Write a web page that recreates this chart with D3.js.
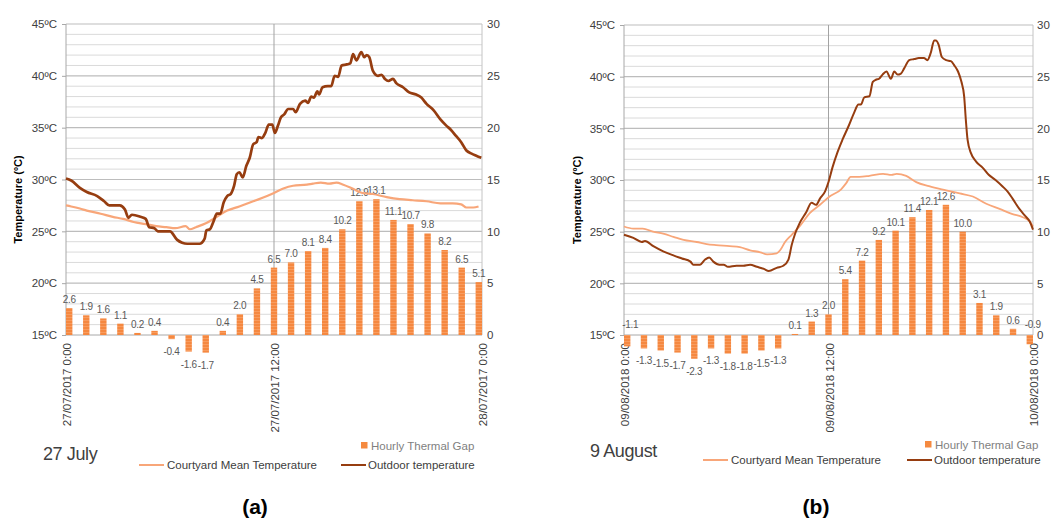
<!DOCTYPE html>
<html><head><meta charset="utf-8">
<script src="https://cdn.jsdelivr.net/npm/d3@7"></script>
<style>
html,body{margin:0;padding:0;background:#fff;}
svg{display:block;}
text{font-family:"Liberation Sans",Arial,sans-serif;}
</style></head>
<body>
<svg id="chart" width="1056" height="519"></svg>
<script>
// ---------------- DATA ----------------
const hourTicks = [0, 12, 24];
const xLabelsA = ["27/07/2017 0:00", "27/07/2017 12:00", "28/07/2017 0:00"];
const xLabelsB = ["09/08/2018 0:00", "09/08/2018 12:00", "10/08/2018 0:00"];
const tempTicks = [15, 20, 25, 30, 35, 40, 45];
const gapTicks = [0, 5, 10, 15, 20, 25, 30];
const barHours = d3.range(0, 25);

const gapA = [2.6,1.9,1.6,1.1,0.2,0.4,-0.4,-1.6,-1.7,0.4,2.0,4.5,6.5,7.0,8.1,8.4,10.2,12.9,13.1,11.1,10.7,9.8,8.2,6.5,5.1];
const gapB = [-1.1,-1.3,-1.5,-1.7,-2.3,-1.3,-1.8,-1.8,-1.5,-1.3,0.1,1.3,2.0,5.4,7.2,9.2,10.1,11.4,12.1,12.6,10.0,3.1,1.9,0.6,-0.9];

// [hour, °C]
const outdoorA = [[0,30.1],[0.3,29.9],[0.8,29.2],[1.2,28.8],[1.8,28.4],[2.2,27.9],[2.5,27.5],[3.1,27.5],[3.4,27.1],[3.6,26.3],[3.8,26.6],[4.3,26.4],[4.6,26.2],[4.8,25.4],[5.1,25.3],[5.3,25.0],[6.0,25.0],[6.4,24.2],[6.7,23.9],[7.0,23.8],[7.7,23.8],[8.0,24.3],[8.1,25.1],[8.3,25.2],[8.5,25.9],[8.7,26.7],[8.9,26.7],[9.1,27.8],[9.3,28.4],[9.5,28.6],[9.7,29.4],[9.85,30.5],[10.0,30.7],[10.2,30.2],[10.4,31.3],[10.6,32.1],[10.8,33.4],[11.0,33.6],[11.1,34.1],[11.3,34.0],[11.5,34.5],[11.7,35.3],[11.9,35.3],[12.05,34.5],[12.23,35.2],[12.4,36.0],[12.6,36.3],[12.8,36.8],[13.1,36.8],[13.25,36.5],[13.5,37.3],[13.8,37.6],[13.96,37.4],[14.15,38.0],[14.3,37.9],[14.5,38.5],[14.6,38.2],[14.8,38.9],[15.1,39.0],[15.3,39.0],[15.5,40.0],[15.7,39.9],[15.9,41.0],[16.2,41.1],[16.4,41.2],[16.56,42.1],[16.75,41.5],[17.04,42.3],[17.2,41.8],[17.35,42.0],[17.5,41.8],[17.7,40.5],[18.0,40.0],[18.2,40.1],[18.4,39.7],[18.6,39.5],[18.87,39.7],[19.05,39.3],[19.44,38.9],[19.8,38.4],[20.2,38.2],[20.5,37.9],[20.8,37.3],[21.2,36.7],[21.6,35.8],[21.94,35.2],[22.2,34.8],[22.5,34.2],[22.8,33.6],[23.1,32.8],[23.4,32.5],[23.67,32.3],[23.96,32.1]];
const courtyardA = [[0,27.5],[0.3,27.4],[0.8,27.2],[1.2,27.0],[2.0,26.7],[2.7,26.4],[3.3,26.2],[3.9,25.9],[4.6,25.7],[5.2,25.5],[5.8,25.4],[6.3,25.3],[6.9,25.5],[7.15,25.2],[7.5,25.4],[8.1,25.8],[8.7,26.4],[9.3,27.0],[10.0,27.4],[10.8,27.9],[11.6,28.4],[12.0,28.7],[12.5,29.1],[13.1,29.4],[13.9,29.5],[14.25,29.6],[14.7,29.7],[15.2,29.6],[15.6,29.7],[16.0,29.5],[16.56,29.1],[17.1,28.7],[17.7,28.6],[18.5,28.3],[19.25,28.1],[20.0,28.0],[20.8,27.9],[21.6,27.7],[22.3,27.7],[22.8,27.6],[23.1,27.3],[23.5,27.3],[23.8,27.4]];
const outdoorB = [[0,24.7],[0.55,24.4],[1.04,24.0],[1.23,24.1],[1.72,23.6],[2.3,23.1],[2.9,22.7],[3.4,22.4],[3.9,22.1],[4.07,21.8],[4.46,21.8],[4.76,22.3],[5.0,22.5],[5.24,22.1],[5.6,21.8],[5.85,21.8],[6.1,21.6],[6.6,21.7],[7.0,21.7],[7.4,21.8],[7.8,21.6],[8.2,21.4],[8.5,21.2],[8.96,21.5],[9.35,21.7],[9.65,22.3],[9.84,23.7],[10.04,24.8],[10.3,25.8],[10.7,26.9],[11.0,27.8],[11.27,27.6],[11.5,28.2],[11.8,28.9],[12.0,29.8],[12.23,31.2],[12.53,32.7],[12.82,33.9],[13.2,35.3],[13.5,36.5],[13.76,37.3],[13.9,37.3],[14.1,38.0],[14.4,38.1],[14.6,39.5],[14.78,39.7],[14.97,39.8],[15.17,40.2],[15.4,40.5],[15.66,39.8],[15.86,40.5],[16.05,40.2],[16.25,40.3],[16.44,40.8],[16.74,41.6],[17.03,41.7],[17.3,41.8],[17.6,41.8],[17.8,41.6],[18.0,42.3],[18.2,43.5],[18.3,43.5],[18.46,43.1],[18.65,41.9],[18.9,41.6],[19.18,41.5],[19.38,41.1],[19.6,40.5],[19.8,39.5],[19.96,38.1],[20.06,35.8],[20.16,33.9],[20.36,32.6],[20.65,31.8],[21.04,31.2],[21.4,30.5],[21.8,30.0],[22.2,29.4],[22.5,28.9],[22.8,28.2],[23.2,27.2],[23.5,26.6],[23.8,26.0],[24.0,25.2]];
const courtyardB = [[0,25.5],[0.55,25.3],[1.1,25.3],[1.7,25.0],[2.3,24.8],[2.9,24.5],[3.5,24.2],[4.27,24.0],[4.85,23.8],[5.4,23.7],[6.2,23.6],[6.8,23.5],[7.4,23.2],[8.0,23.0],[8.4,22.8],[8.96,22.9],[9.16,23.2],[9.45,24.0],[9.84,24.7],[10.3,25.5],[10.9,26.8],[11.5,27.6],[12.06,28.4],[12.74,29.1],[13.04,29.7],[13.3,30.3],[13.8,30.3],[14.4,30.4],[15.2,30.6],[15.7,30.5],[16.0,30.6],[16.56,30.4],[17.15,29.8],[17.9,29.4],[18.9,29.0],[19.7,28.7],[20.47,28.4],[21.26,27.7],[22.04,27.2],[22.8,26.7],[23.4,26.4],[23.8,26.0],[24.0,25.5]];

const titles = ["27 July", "9 August"];
const captions = ["(a)", "(b)"];
const legendLabels = ["Hourly Thermal Gap", "Courtyard Mean Temperature", "Outdoor temperature"];
const yTitle = "Temperature (ºC)";

// ---------------- STYLE ----------------
const C_OUT = "#963d10", C_CY = "#f8a679", C_BAR = "#f58a40";
const svg = d3.select("#chart");

const defs = svg.append("defs");
const pat = defs.append("pattern").attr("id","stripe").attr("patternUnits","userSpaceOnUse")
  .attr("width",4).attr("height",3);
pat.append("rect").attr("width",4).attr("height",3).attr("fill","#f58840");
pat.append("rect").attr("y",2).attr("width",4).attr("height",1).attr("fill","#f89c5f");

const charts = [
  {x0:66, x1:482, top:24, bot:335, gap:gapA, out:outdoorA, cy:courtyardA, xl:xLabelsA,
   title:titles[0], tx:43, ty:460, cap:captions[0], cx:255, ytx:18, rax:487, above:[],
   leg:{sqx:361, sqy:442, sty:450, ly:465, cyx:139, outx:341}, outW:2.7, cyW:2.2},
  {x0:624, x1:1033, top:25, bot:335, gap:gapB, out:outdoorB, cy:courtyardB, xl:xLabelsB,
   title:titles[1], tx:590, ty:457, cap:captions[1], cx:816, ytx:577, rax:1037, above:[0,24],
   leg:{sqx:925, sqy:441, sty:449, ly:460, cyx:703, outx:907}, outW:2.0, cyW:1.8}
];

charts.forEach(c => {
  const g = svg.append("g");
  const x = d3.scaleLinear().domain([0,24]).range([c.x0, c.x1]);
  const xb = d3.scaleLinear().domain([0,24]).range([c.x0+3.2, c.x1-3.2]);
  const y = d3.scaleLinear().domain([15,45]).range([c.bot, c.top]);
  const yg = d3.scaleLinear().domain([0,30]).range([c.bot, c.top]);

  // grid
  g.append("g").selectAll("line").data(d3.range(16,46)).join("line")
    .attr("x1", c.x0).attr("x2", c.x1).attr("y1", d=>y(d)).attr("y2", d=>y(d))
    .attr("stroke", d => d%5===0 ? "#bdbdbd" : "#dadada").attr("stroke-width", d=> d%5===0 ? 1.2 : 1);
  // vertical lines
  g.append("line").attr("x1",x(12)).attr("x2",x(12)).attr("y1",c.top).attr("y2",c.bot).attr("stroke","#a3a3a3");
  g.append("line").attr("x1",c.x0).attr("x2",c.x0).attr("y1",c.top).attr("y2",c.bot).attr("stroke","#a8a8a8");
  g.append("line").attr("x1",c.x1).attr("x2",c.x1).attr("y1",c.top).attr("y2",c.bot).attr("stroke","#c4c4c4");
  g.append("line").attr("x1",c.x0).attr("x2",c.x1).attr("y1",c.bot).attr("y2",c.bot).attr("stroke","#a8a8a8");

  // left axis
  const la = g.append("g").attr("transform",`translate(${c.x0},0)`)
    .call(d3.axisLeft(y).tickValues(tempTicks).tickFormat(d=>d+"ºC").tickSize(4).tickPadding(5).tickSizeOuter(0));
  la.select(".domain").remove();
  la.selectAll("line").attr("stroke","#a8a8a8");
  la.selectAll("text").attr("font-size","11.5px").attr("fill","#404040").attr("font-family","Liberation Sans, Arial, sans-serif");
  // right axis
  const ra = g.append("g").attr("transform",`translate(${c.rax},0)`)
    .call(d3.axisRight(yg).tickValues(gapTicks).tickSize(0).tickPadding(0));
  ra.select(".domain").remove();
  ra.selectAll("text").attr("font-size","11.5px").attr("fill","#404040").attr("font-family","Liberation Sans, Arial, sans-serif");

  // y title
  g.append("text").attr("transform",`translate(${c.ytx+4},${(c.top+c.bot)/2+20}) rotate(-90)`)
    .attr("text-anchor","middle").attr("font-size","11px").attr("font-weight","bold").attr("fill","#000").text(yTitle);

  // x labels
  g.append("g").selectAll("text").data(hourTicks).join("text")
    .attr("transform", (d)=>`translate(${x(d)+5},${c.bot+8}) rotate(-90)`)
    .attr("text-anchor","end").attr("font-size","11.5px").attr("fill","#404040")
    .text((d,i)=>c.xl[i]);

  // bars
  const bw = 6.4;
  g.append("g").selectAll("rect").data(c.gap).join("rect")
    .attr("x",(d,i)=>xb(barHours[i])-bw/2).attr("width",bw)
    .attr("y",d=>Math.min(yg(d),yg(0))).attr("height",d=>Math.abs(yg(d)-yg(0)))
    .attr("fill","url(#stripe)");
  g.append("g").selectAll("text").data(c.gap).join("text")
    .attr("x",(d,i)=>xb(barHours[i])+ (c.above.includes(i)? 3:0))
    .attr("y",(d,i)=> c.above.includes(i) ? yg(0)-7 : (d>=0 ? yg(d)-5 : yg(d)+16))
    .attr("text-anchor","middle").attr("font-size","10px").attr("letter-spacing","-0.3").attr("fill","#595959")
    .text(d=>d.toFixed(1));

  // lines
  const line = d3.line().x(d=>x(d[0])).y(d=>y(d[1])).curve(d3.curveMonotoneX);
  g.append("path").datum(c.cy).attr("d",line).attr("fill","none").attr("stroke",C_CY).attr("stroke-width",c.cyW).attr("stroke-linejoin","round");
  g.append("path").datum(c.out).attr("d",line).attr("fill","none").attr("stroke",C_OUT).attr("stroke-width",c.outW).attr("stroke-linejoin","round");

  // legend
  const L = c.leg;
  g.append("rect").attr("x",L.sqx).attr("y",L.sqy).attr("width",6.5).attr("height",6.5).attr("fill",C_BAR);
  g.append("text").attr("x",L.sqx+10).attr("y",L.sty).attr("font-size","11.5px").attr("fill","#7f7f7f").text(legendLabels[0]);
  g.append("line").attr("x1",L.cyx).attr("x2",L.cyx+25).attr("y1",L.ly).attr("y2",L.ly).attr("stroke",C_CY).attr("stroke-width",2);
  g.append("text").attr("x",L.cyx+28).attr("y",L.ly+4).attr("font-size","11.5px").attr("fill","#404040").text(legendLabels[1]);
  g.append("line").attr("x1",L.outx).attr("x2",L.outx+25).attr("y1",L.ly).attr("y2",L.ly).attr("stroke",C_OUT).attr("stroke-width",2);
  g.append("text").attr("x",L.outx+27).attr("y",L.ly+4).attr("font-size","11.5px").attr("fill","#404040").text(legendLabels[2]);

  // title & caption
  g.append("text").attr("x",c.tx).attr("y",c.ty).attr("font-size","18px").attr("fill","#404040")
    .attr("font-family","Roboto, sans-serif").attr("letter-spacing","-0.4").text(c.title);
  g.append("text").attr("x",c.cx).attr("y",514).attr("text-anchor","middle").attr("font-size","21px")
    .attr("font-weight","bold").attr("font-family","Liberation Serif, serif").attr("fill","#000").text(c.cap);
});
</script>
</body></html>
